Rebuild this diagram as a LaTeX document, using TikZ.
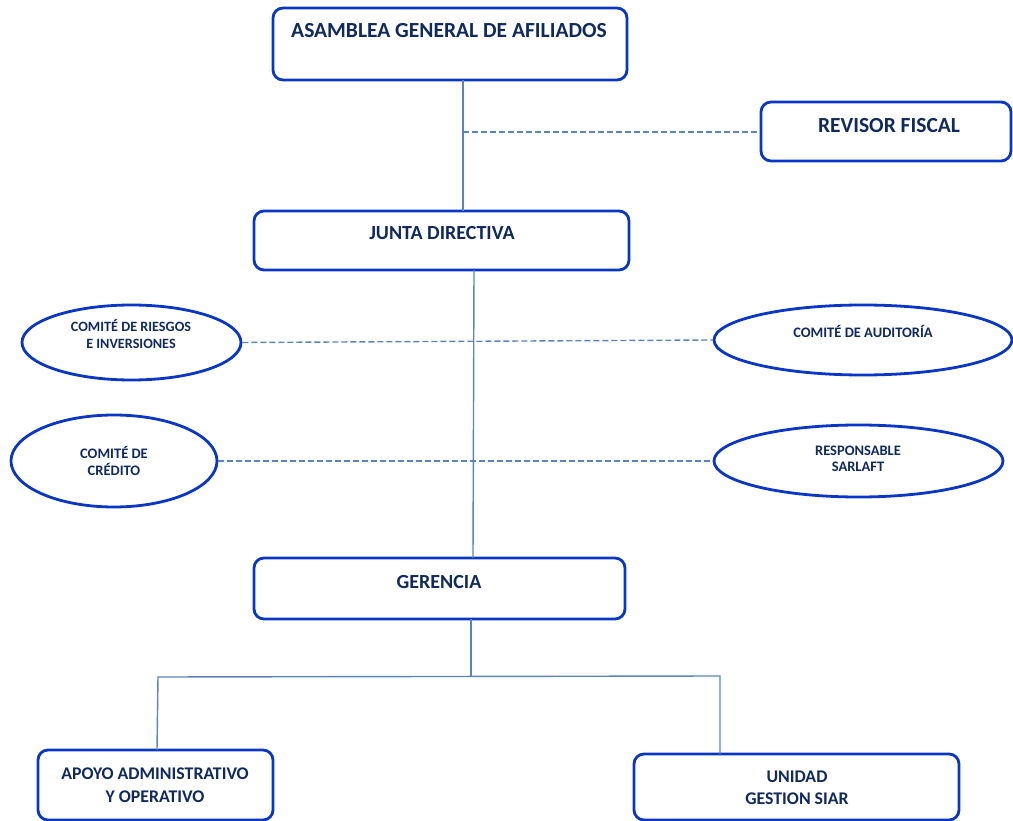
\documentclass[tikz,border=0pt]{standalone}
\usepackage{fontspec}
\setmainfont{Carlito}
\usetikzlibrary{shapes.geometric}
\definecolor{boxblue}{HTML}{0A36C6}
\definecolor{navy}{HTML}{102A5E}
\definecolor{linkblue}{HTML}{5A84C0}
\tikzset{
  orgbox/.style={draw=boxblue, line width=2.8pt, rounded corners=10pt, fill=white, inner sep=0pt},
  orgell/.style={draw=boxblue, line width=2.8pt, ellipse, fill=white, inner sep=0pt},
  lbl/.style={text=navy, align=center, inner sep=0pt},
  hugelbl/.style={lbl, font=\bfseries\fontsize{21.5}{25}\selectfont},
  biglbl/.style={lbl, font=\bfseries\fontsize{20}{24}\selectfont},
  midlbl/.style={lbl, font=\bfseries\fontsize{17.8}{22.5}\selectfont},
  smalllbl/.style={lbl, font=\bfseries\fontsize{14.5}{16.5}\selectfont},
  tinylbl/.style={lbl, font=\bfseries\fontsize{14.2}{17}\selectfont},
  solidlink/.style={draw=linkblue, line width=1.4pt},
  dashlink/.style={draw=linkblue, line width=1.4pt, dash pattern=on 6pt off 3pt}
}
\begin{document}
\begin{tikzpicture}[x=1pt,y=-1pt]
\useasboundingbox (0,0) rectangle (1013,821);
% boxes
\node[orgbox, minimum width=354, minimum height=72] (asm) at (450,44) {};
\node[orgbox, minimum width=250, minimum height=59] (rev) at (886,131.5) {};
\node[orgbox, minimum width=375, minimum height=59] (jun) at (441.5,240.5) {};
\node[orgbox, minimum width=371, minimum height=61] (ger) at (439.5,588.5) {};
\node[orgbox, minimum width=235, minimum height=70] (apo) at (155.5,785) {};
\node[orgbox, minimum width=325, minimum height=66] (uni) at (796.5,787) {};
% ellipses
\node[orgell, minimum width=219, minimum height=75] (rie) at (131.5,342.5) {};
\node[orgell, minimum width=298, minimum height=70] (aud) at (863,340) {};
\node[orgell, minimum width=206, minimum height=92] (cre) at (114,461) {};
\node[orgell, minimum width=289, minimum height=72] (sar) at (858.5,461) {};
% coordinates
\coordinate (asmb) at (463,80);
\coordinate (junt) at (463,211);
\coordinate (revj) at (463,132);
\coordinate (junb) at (474,270);
\coordinate (gert) at (473,558);
\coordinate (gerb) at (471,619);
\coordinate (bus) at (471,677);
\coordinate (busl) at (158,677);
\coordinate (busr) at (720,676);
\coordinate (apot) at (157,750);
\coordinate (unit) at (720,754);
% connectors
\draw[solidlink] (asmb) -- (junt);
\draw[dashlink] (revj) -- (rev.west |- revj);
\draw[solidlink] (junb) -- (gert);
\draw[dashlink] (rie.east) -- (aud.west);
\draw[dashlink] (cre.east) -- (sar.west);
\draw[solidlink] (gerb) -- (bus);
\draw[solidlink] (apot) -- (busl) -- (busr) -- (unit);
% labels
\node[hugelbl] (tasm) at (449,31) {ASAMBLEA GENERAL DE AFILIADOS};
\node[hugelbl] (trev) at (889,126) {REVISOR FISCAL};
\node[biglbl] (tjun) at (442,233) {JUNTA DIRECTIVA};
\node[biglbl] (tger) at (439,582) {GERENCIA};
\node[midlbl] (tapo) at (155,785) {APOYO ADMINISTRATIVO\\Y OPERATIVO};
\node[midlbl] (tuni) at (797,788) {UNIDAD\\GESTION SIAR};
\node[tinylbl] (trie) at (131,334) {COMITÉ DE RIESGOS\\E INVERSIONES};
\node[smalllbl] (taud) at (863,331) {COMITÉ DE AUDITORÍA};
\node[smalllbl] (tcre) at (114,461) {COMITÉ DE\\CRÉDITO};
\node[smalllbl] (tsar) at (858,459) {RESPONSABLE\\SARLAFT};
\end{tikzpicture}
\end{document}
